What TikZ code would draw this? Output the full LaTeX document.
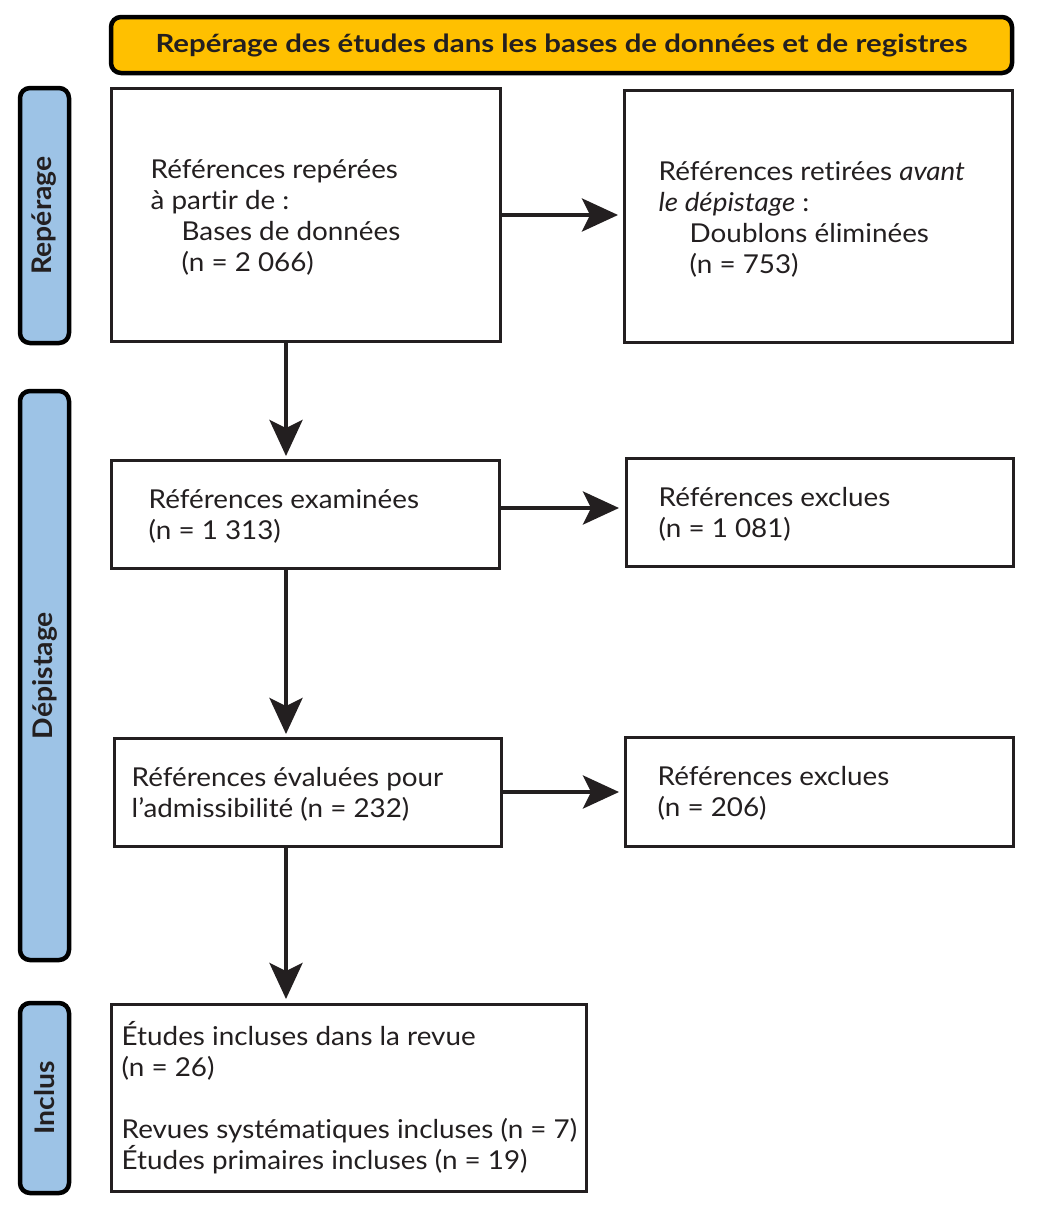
\documentclass[tikz,border=0pt]{standalone}
\usepackage{fontspec}
\setmainfont[FakeStretch=1.07,Ligatures={NoCommon}]{Lato}
\newfontfamily\hdrfont[FakeStretch=1.175,Ligatures={NoCommon}]{Lato}
\newfontfamily\sidefont[FakeStretch=1.05,Ligatures={NoCommon}]{Lato}
\usetikzlibrary{arrows.meta}
\definecolor{hdr}{HTML}{FFC000}
\definecolor{side}{HTML}{9DC3E6}
\definecolor{ink}{HTML}{231F20}
\tikzset{
  box/.style={draw=ink, line width=3pt, fill=white, inner sep=0pt},
  sidebox/.style={draw=black, line width=4.5pt, fill=side, rounded corners=10pt, inner sep=0pt, minimum width=49pt},
  sidelbl/.style={rotate=90, font=\sidefont\fontsize{27}{30}\selectfont\bfseries, text=ink},
  txt/.style={align=left, anchor=west, inner sep=0pt, font=\fontsize{26}{31}\selectfont, text=ink},
  arr/.style={draw=ink, line width=4pt, -{Stealth[length=36pt,width=33pt,inset=8pt]}}
}
\newcommand{\ind}{\hspace*{31pt}}
\begin{document}
\begin{tikzpicture}[x=1pt,y=-1pt]
\useasboundingbox (0,0) rectangle (1042,1208);
% header
\node[draw=black, line width=4.5pt, fill=hdr, rounded corners=10pt, minimum width=901pt, minimum height=56pt, font=\hdrfont\fontsize{25}{28}\selectfont\bfseries, text=ink] (hd) at (561.5,45) {Repérage des études dans les bases de données et de registres};
% side boxes
\node[sidebox, minimum height=255pt] (s1) at (44.5,215.5) {};
\node[sidelbl] (l1) at (s1.center) {Repérage};
\node[sidebox, minimum height=569pt] (s2) at (44.5,675.5) {};
\node[sidelbl] (l2) at (s2.center) {Dépistage};
\node[sidebox, minimum height=190pt] (s3) at (44.5,1098) {};
\node[sidelbl] (l3) at (s3.center) {Inclus};
% boxes
\node[box, minimum width=389pt, minimum height=253pt] (b1) at (305.5,214.5) {};
\node[txt] (t1) at ([xshift=41pt,yshift=-3pt]b1.west) {Références repérées\\à partir de :\\\ind Bases de données\\\ind (n = 2 066)};
\node[box, minimum width=388pt, minimum height=252pt] (b2) at (818,216) {};
\node[txt] (t2) at ([xshift=36pt,yshift=-3pt]b2.west) {Références retirées \textit{avant}\\\textit{le dépistage} :\\\ind Doublons éliminées\\\ind (n = 753)};
\node[box, minimum width=388pt, minimum height=108pt] (b3) at (305,514) {};
\node[txt] (t3) at ([xshift=39pt,yshift=-2pt]b3.west) {Références examinées\\(n = 1 313)};
\node[box, minimum width=387pt, minimum height=108pt] (b4) at (819.5,512) {};
\node[txt] (t4) at ([xshift=34pt,yshift=-2pt]b4.west) {Références exclues\\(n = 1 081)};
\node[box, minimum width=387pt, minimum height=108pt] (b5) at (307.5,792) {};
\node[txt] (t5) at ([xshift=19pt,yshift=-2pt]b5.west) {Références évaluées pour\\l’admissibilité (n = 232)};
\node[box, minimum width=388pt, minimum height=109pt] (b6) at (819,791.5) {};
\node[txt] (t6) at ([xshift=34pt,yshift=-2pt]b6.west) {Références exclues\\(n = 206)};
\node[box, minimum width=475pt, minimum height=187pt] (b7) at (348.5,1097.5) {};
\node[txt] (t7) at ([xshift=12pt,yshift=0pt]b7.west) {Études incluses dans la revue\\(n = 26)\\[31pt]Revues systématiques incluses (n = 7)\\Études primaires incluses (n = 19)};
% arrows
\coordinate (e1) at (618,215);
\draw[arr] (b1.east |- e1) -- (e1);
\coordinate (d1a) at (286,341);
\coordinate (d1b) at (286,456);
\draw[arr] (d1a) -- (d1b);
\coordinate (e2) at (619,508);
\draw[arr] (b3.east |- e2) -- (e2);
\coordinate (d2a) at (286,568);
\coordinate (d2b) at (286,734);
\draw[arr] (d2a) -- (d2b);
\coordinate (e3) at (619,792);
\draw[arr] (b5.east |- e3) -- (e3);
\coordinate (d3a) at (286,846);
\coordinate (d3b) at (286,999);
\draw[arr] (d3a) -- (d3b);
\end{tikzpicture}
\end{document}
